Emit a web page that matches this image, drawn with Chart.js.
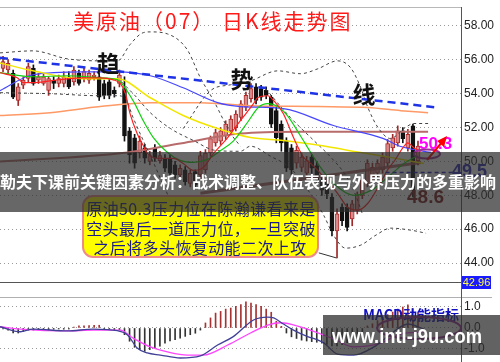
<!DOCTYPE html>
<html>
<head>
<meta charset="utf-8">
<script src="https://cdn.jsdelivr.net/npm/chart.js@4.4.1/dist/chart.umd.min.js"></script>
<style>
  html, body { margin: 0; padding: 0; background: #fff; }
  #wrap { position: relative; width: 500px; height: 362px; overflow: hidden; }
  canvas { position: absolute; left: 0; }
  #main { top: 0; }
  #macd { top: 297px; }
</style>
</head>
<body>
<div id="wrap">
  <canvas id="main" width="500" height="297"></canvas>
  <canvas id="macd" width="500" height="65"></canvas>
</div>
<script>
// daily candles (index = trading day)
var openP  = [55.5,55.4,55.2,53.6,54.5,54.9,55.5,54.8,54.6,54.2,54.8,54.6,54.6,55.0,54.7,55.2,54.9,54.8,55.0,55.0,
              54.6,54.7,54.2,54.6,54.3,51.8,51.4,50.5,50.8,50.0,50.8,50.05,50.2,50.2,49.8,49.2,49.5,48.7,49.4,49.2,
              49.5,50.5,51.1,51.2,51.5,51.8,52.0,52.6,53.2,53.7,54.4,54.3,54.2,53.8,53.0,52.2,51.2,50.8,49.9,49.65,
              49.3,50.25,49.76,48.9,48.9,47.9,45.9,47.3,47.3,46.6,47.1,48.0,48.7,49.1,49.3,49.5,49.9,50.8,51.1,51.8,
              50.8,52.1,50.05];
var highP  = [56.2,56.0,55.4,54.6,55.0,55.8,55.7,55.2,55.2,55.0,55.0,55.1,55.3,55.3,55.6,55.4,55.5,55.4,55.3,55.2,
              54.8,54.9,54.4,55.4,55.0,52.0,51.6,51.5,51.0,50.6,51.0,50.6,50.4,50.4,50.0,49.8,49.7,49.5,49.5,50.6,
              50.7,51.5,51.9,52.0,52.4,52.7,53.0,53.6,54.1,54.6,54.6,54.5,54.4,53.9,53.2,52.4,51.4,51.0,50.9,50.5,
              50.3,50.4,50.0,49.1,49.1,48.1,47.2,47.5,47.5,47.7,48.2,49.1,50.1,49.9,50.1,50.5,51.3,51.6,52.1,52.0,
              51.9,52.2,51.2];
var lowP   = [55.3,55.2,53.7,53.3,54.3,54.7,54.5,54.6,54.5,53.9,54.3,54.4,54.4,54.3,54.5,54.5,54.7,54.6,54.8,53.6,
              53.7,53.7,53.8,54.4,51.2,49.9,49.6,50.2,49.9,49.8,50.0,49.9,49.4,49.1,49.0,49.0,48.6,48.5,48.4,49.0,
              49.3,50.3,50.9,51.0,51.3,51.6,51.8,52.4,53.0,53.5,53.4,53.6,53.7,52.0,51.1,50.6,49.4,49.2,49.6,49.4,
              49.0,49.3,48.7,48.0,47.8,45.6,44.3,46.2,45.9,46.2,46.9,47.8,48.5,48.9,49.1,49.3,49.7,50.6,50.9,51.1,
              50.6,47.9,49.8];
var closeP = [55.9,55.8,53.8,54.4,54.8,55.6,54.6,55.0,55.0,54.9,54.6,54.9,55.0,54.4,55.4,54.6,55.3,55.2,55.1,53.8,
              53.9,53.9,54.0,55.1,51.5,50.4,49.9,51.2,50.2,50.35,50.2,50.35,49.6,49.3,49.2,49.6,48.8,49.3,48.6,50.35,
              50.5,51.35,51.7,51.8,52.2,52.5,52.8,53.4,53.9,54.3,53.6,53.8,53.9,52.2,51.4,51.1,49.6,49.5,50.65,50.25,
              50.05,49.6,48.9,48.3,48.1,45.9,46.9,46.5,46.1,47.5,48.0,48.9,49.9,49.65,49.9,50.25,51.05,51.4,51.8,51.35,
              51.6,48.3,50.9];
var priceTicks = [44, 46, 48, 50, 52, 54, 56, 58];
var lastPrice = '42.96';

// overlay lines as [day, price]
var maBlue   = [[-0.6,54.18],[5.9,55.12],[15.8,55.29],[22.6,55.29],[29.1,55.06],[35.6,54.35],[42.4,53.47],[46.9,53.24],[55.4,53.12],[65.3,52.12],[75.2,51.35],[78.6,50.88],[84.6,50.53]];
var maYellow = [[-0.6,55.82],[5.9,55.35],[15.8,54.88],[22.6,54.88],[29.1,53.76],[35.6,52.71],[42.4,51.94],[48.9,51.41],[55.4,51.24],[62.8,50.94],[70.7,50.53],[76.6,50.24],[83.2,49.88]];
var maGreen  = [[-0.6,55.24],[5.9,55.0],[12.7,55.06],[19.2,54.94],[22.6,54.82],[25.7,53.59],[27.7,52.41],[29.7,51.41],[32.5,50.53],[35,50.06],[37.6,49.94],[40.4,50.12],[43,50.65],[45.5,51.2],[48.3,52.3],[50.5,53.2],[52.3,53.41],[54.5,53.2],[56.2,52.7],[58.8,51.5],[62.2,49.88],[65.3,48.71],[69.3,48.0],[72.7,48.29],[76,49.06],[79.2,49.88],[82,50.35]];
var maRed    = [[-0.6,55.24],[2.8,54.94],[4,54.65],[5.9,54.65],[9.3,54.76],[12.7,54.88],[15.8,54.94],[19.2,54.94],[21.8,54.82],[23.2,54.59],[24.2,54.0],[25.1,52.82],[26.5,51.65],[27.7,50.94],[28.5,50.47],[31.1,50.18],[33.7,50.18],[35.6,49.88],[37.6,49.47],[39.6,49.65],[41.6,50.47],[44.4,51.41],[46.9,52.41],[49.5,53.41],[50.3,53.76],[52.3,53.88],[53.5,53.59],[55.4,52.82],[57.4,51.41],[59.4,50.24],[60.8,49.88],[62.2,49.47],[63.4,49.06],[66.1,48.12],[68.1,47.29],[70.1,47.12],[72.1,47.53],[74.1,48.47],[76,49.5],[77.5,50.1],[79,50.8],[80,51.1],[81.2,50.8],[82.6,50.6]];
var maOrange = [[-0.6,52.71],[9.3,52.88],[19.2,53.24],[29.1,53.47],[39,53.47],[48.9,53.29],[62.2,53.24],[72.1,53.18],[78.6,53.0],[84,52.88]];
var maBrown  = [[-0.6,50.0],[24.6,50.53],[35,51.06],[46.9,51.65],[58.8,51.76],[84,51.76]];
var trendLine   = [[-0.6,56.12],[85.9,53.18]];
var bandUpperA  = [[-0.6,56.41],[5.9,56.53],[12.7,56.06],[19.2,55.94],[22.6,55.94],[25.1,56.9],[27.3,57.55],[29.1,57.65],[32.5,57.53],[36.4,56.6],[39,54.94],[41.6,53.6],[45,51.65],[46.9,50.9]];
var bandUpperB  = [[35.6,51.94],[41,54.18],[45,54.53],[48.9,54.76],[54.3,55.35],[58.8,55.18],[62.2,55.47],[66.1,55.94],[68.7,55.53],[70.7,54.35],[72.1,53.18],[74.1,52.0],[76.6,51.35],[79.2,51.94],[81.2,52.24],[84,52.24]];
var bandLowerA  = [[-0.6,54.06],[9.3,54.0],[19.2,53.88],[22.6,53.88],[24.2,53.71],[25.7,52.59],[27.7,51.24],[29.1,50.35],[31.1,49.0],[34.1,47.0]];
var bandLowerB  = [[22.6,54.94],[26.1,53.88],[29.1,52.88],[33.1,51.94],[37.6,51.24],[42,50.65],[46.9,50.6],[48.9,50.9],[52.9,50.3],[56.8,49.6],[60.5,48.2],[63.4,46.8],[65.3,45.65],[67.7,44.88],[70.7,45.06],[73.7,45.65],[76.6,46.06],[80.6,45.94],[83.6,45.76]];
var bandMid     = [[51.9,54.29],[56.8,52.59],[61.4,51.24],[64.8,50.24],[67.7,49.18],[69.7,48.0],[71.1,46.82]];
var channelLine = [[39,48.12],[82.6,49.94]];
var supportLine = [[75.6,49.35],[88.9,49.35]];
var pointerLine = [[62.4,44.6],[65.9,44.3]];

// MACD panel
var macdTicks = [1, 0, -1];
var macdHist = [-0.05,-0.1,-0.24,-0.24,-0.16,-0.1,-0.1,-0.08,-0.06,-0.08,-0.06,-0.05,-0.06,-0.05,0.04,0.1,0.1,0.11,0.13,0.13,
                -0.05,-0.06,-0.08,-0.08,-0.32,-0.63,-0.92,-1.03,-1.11,-1.03,-0.95,-0.87,-0.72,-0.62,-0.56,-0.48,-0.4,-0.32,-0.25,-0.1,
                0.24,0.48,0.71,0.79,0.9,0.95,1.03,1.11,1.24,1.19,1.11,1.03,0.9,0.75,0.32,0.08,-0.24,-0.42,-0.5,-0.58,
                -0.62,-0.65,-0.68,-0.72,-0.78,-0.85,-0.85,-0.8,-0.7,-0.55,-0.4,-0.2,0.1,0.2,0.35,0.52,0.64,0.76,0.9,1.0,
                1.1,0.92,0.76];
var difLine = [[-0.6,0.06],[3.4,-0.18],[5.9,-0.05],[12.7,-0.14],[17.8,-0.05],[22.6,-0.13],[24.6,-0.33],[26.5,-0.95],[28.5,-1.19],[31.1,-1.29],[35,-1.43],[39,-1.33],[42.4,-0.81],[45.5,-0.41],[49.5,0.38],[52.3,0.52],[53.5,0.48],[55.4,0.19],[57.4,-0.1],[60.2,-0.41],[62.2,-0.57],[63.4,-0.71],[66.1,-1.24],[69.3,-1.29],[73.3,-0.9],[76.6,-0.29],[80,0.19],[83.2,-0.05]];
var deaLine = [[-0.6,0.06],[3.4,-0.05],[12.7,-0.14],[17.8,-0.1],[23.2,-0.1],[25.7,-0.48],[29.1,-0.9],[32.5,-1.14],[36.4,-1.29],[39.6,-1.29],[44.4,-0.81],[48.9,-0.24],[52.3,0.14],[54.9,0.25],[58.8,0.05],[65.3,-0.52],[69.3,-0.9],[74.1,-0.76],[78.6,-0.29],[83.2,-0.19]];

var days = openP.map(function (o, i) { return i; });
var isUp = days.map(function (i) { return closeP[i] >= openP[i]; });

function curve(points, color, width, dash, order) {
  return {
    type: 'line',
    data: points.map(function (p) { return { x: p[0], y: p[1] }; }),
    borderColor: color,
    borderWidth: width,
    borderDash: dash || [],
    pointRadius: 0,
    fill: false,
    cubicInterpolationMode: 'monotone',
    order: order || 1
  };
}

function ellipse(ctx, cx, cy, rx, ry, color) {
  ctx.strokeStyle = color;
  ctx.lineWidth = 2;
  ctx.beginPath();
  ctx.ellipse(cx, cy, rx, ry, 0, 0, Math.PI * 2);
  ctx.stroke();
}

var mainOverlay = {
  id: 'mainOverlay',
  afterDraw: function (chart) {
    var ctx = chart.ctx;
    var area = chart.chartArea;
    ctx.save();

    // frame
    ctx.lineWidth = 1;
    ctx.strokeStyle = '#b8b8b8';
    ctx.beginPath(); ctx.moveTo(0, area.top + 0.5); ctx.lineTo(area.right, area.top + 0.5); ctx.stroke();
    ctx.strokeStyle = '#555';
    ctx.beginPath(); ctx.moveTo(0, area.bottom + 0.5); ctx.lineTo(area.right, area.bottom + 0.5); ctx.stroke();
    ctx.beginPath(); ctx.moveTo(area.right + 0.5, area.top); ctx.lineTo(area.right + 0.5, chart.height); ctx.stroke();

    // last price box
    ctx.fillStyle = '#1a1aff';
    ctx.fillRect(462, 276, 29, 13);
    ctx.fillStyle = '#ffff40';
    ctx.font = '11px "Liberation Sans"';
    ctx.textAlign = 'center';
    ctx.textBaseline = 'middle';
    ctx.fillText(lastPrice, 476.5, 283);

    // title
    ctx.font = '21px "Noto Sans CJK SC"';
    ctx.fillStyle = '#ff1a1a';
    ctx.textAlign = 'left';
    ctx.letterSpacing = '2px';
    ctx.fillText('美原油（07） 日K线走势图', 73, 21);
    ctx.letterSpacing = '0px';

    // 趋 势 线
    ctx.font = 'bold 23px "Noto Sans CJK SC"';
    ctx.fillStyle = '#111';
    ctx.textAlign = 'center';
    ctx.fillText('趋', 108, 63);
    ctx.fillText('势', 242, 79);
    ctx.fillText('线', 364, 94);

    // price notes
    ctx.textAlign = 'left';
    ctx.font = 'bold 17px "Liberation Sans"';
    ctx.fillStyle = '#ff00ff';
    ctx.fillText('50.3', 419, 144);
    ctx.font = 'bold 18px "Liberation Sans"';
    ctx.fillStyle = '#2a2ab8';
    ctx.fillText('49.5', 452, 172);
    ctx.font = 'bold 19px "Liberation Sans"';
    ctx.fillStyle = '#7a1a1a';
    ctx.fillText('48.6', 407, 198);

    ellipse(ctx, 427, 154, 13, 4.5, '#9b2d9b');

    // arrow
    ctx.strokeStyle = '#ff0000';
    ctx.fillStyle = '#ff0000';
    ctx.lineWidth = 2;
    ctx.beginPath(); ctx.moveTo(427, 160); ctx.lineTo(443, 141); ctx.stroke();
    ctx.beginPath(); ctx.moveTo(447, 136); ctx.lineTo(437, 141); ctx.lineTo(444, 147); ctx.closePath(); ctx.fill();

    // note box
    ctx.fillStyle = '#ffff00';
    ctx.strokeStyle = '#f08a8a';
    ctx.lineWidth = 2;
    ctx.beginPath();
    ctx.roundRect(83, 196, 235, 61, 10);
    ctx.fill();
    ctx.stroke();
    ctx.fillStyle = '#1a1a8a';
    ctx.font = '16px "Noto Sans CJK SC"';
    ctx.textAlign = 'center';
    ctx.letterSpacing = '0.4px';
    ctx.fillText('原油50.3压力位在陈瀚谦看来是', 201, 209);
    ctx.fillText('空头最后一道压力位，一旦突破', 201, 229);
    ctx.fillText('之后将多头恢复动能二次上攻', 200, 248);
    ctx.letterSpacing = '0px';

    // banner
    ctx.fillStyle = 'rgba(45,45,45,0.72)';
    ctx.fillRect(0, 152, 500, 60);
    ctx.fillStyle = '#ffffff';
    ctx.font = 'bold 16px "Noto Sans CJK SC"';
    ctx.fillText('勒夫下课前关键因素分析：战术调整、队伍表现与外界压力的多重影响', 248, 182);

    ctx.restore();
  }
};

var macdOverlay = {
  id: 'macdOverlay',
  afterDraw: function (chart) {
    var ctx = chart.ctx;
    var area = chart.chartArea;
    ctx.save();
    ctx.strokeStyle = '#b0b0b0';
    ctx.lineWidth = 1;
    ctx.beginPath(); ctx.moveTo(0, 0.5); ctx.lineTo(492, 0.5); ctx.stroke();
    ctx.strokeStyle = '#555';
    ctx.beginPath(); ctx.moveTo(area.right + 0.5, 0); ctx.lineTo(area.right + 0.5, chart.height); ctx.stroke();

    ctx.font = 'bold 14px "Noto Sans CJK SC"';
    ctx.fillStyle = '#1010c0';
    ctx.textAlign = 'left';
    ctx.textBaseline = 'middle';
    ctx.fillText('MACD动能指标', 363, 18);

    ellipse(ctx, 419, 31, 42, 11, '#9b2d9b');

    ctx.fillStyle = 'rgba(45,45,45,0.75)';
    ctx.fillRect(323, 18, 177, 40);
    ctx.fillStyle = '#ffffff';
    ctx.font = 'bold 21px "Liberation Sans"';
    ctx.textAlign = 'center';
    ctx.fillText('www.intl-j9u.com', 407, 40, 150);
    ctx.restore();
  }
};

function fixedAxis(scale) {
  scale.width = 39;
  scale.paddingTop = 0;
  scale.paddingBottom = 0;
}

new Chart(document.getElementById('main'), {
  type: 'bar',
  data: {
    datasets: [
      {
        type: 'bar',
        data: days.map(function (i) { return { x: i, y: [lowP[i], highP[i]] }; }),
        backgroundColor: days.map(function (i) { return isUp[i] ? '#a02828' : '#111'; }),
        barThickness: 1,
        grouped: false,
        order: 21
      },
      {
        type: 'bar',
        data: days.map(function (i) { return { x: i, y: [openP[i], closeP[i]] }; }),
        backgroundColor: days.map(function (i) { return isUp[i] ? '#d88a8a' : '#111'; }),
        borderColor: days.map(function (i) { return isUp[i] ? '#b02a2a' : '#111'; }),
        borderWidth: 1,
        borderSkipped: false,
        barThickness: 4,
        grouped: false,
        order: 20
      },
      curve(maOrange, '#ff9966', 1.5, null, 8),
      curve(maBrown, '#b86b6b', 2, null, 8),
      curve(channelLine, 'rgba(160,80,80,0.85)', 3, null, 8),
      curve(bandUpperA, '#444', 1, [3, 3], 6),
      curve(bandUpperB, '#444', 1, [3, 3], 6),
      curve(bandLowerA, '#444', 1, [3, 3], 6),
      curve(bandLowerB, '#444', 1, [3, 3], 6),
      curve(bandMid, '#444', 1, [3, 3], 6),
      curve(maYellow, '#f2e600', 1.5, null, 4),
      curve(maBlue, '#4646ff', 1.2, null, 4),
      curve(maGreen, '#10d010', 1.2, null, 3),
      curve(maRed, '#ff2020', 1.2, null, 2),
      curve(trendLine, '#1e32e6', 2.5, [8, 5], 1),
      curve(supportLine, '#2020c0', 1.5, [4, 3], 1),
      curve(pointerLine, '#333', 1, null, 1)
    ]
  },
  options: {
    responsive: false,
    animation: false,
    layout: { padding: { left: 0, right: 0, top: 7, bottom: 15 } },
    plugins: { legend: { display: false }, tooltip: { enabled: false } },
    scales: {
      x: { type: 'linear', min: -0.6, max: 90.5, offset: false, display: false },
      y: {
        position: 'right',
        min: 42.88,
        max: 59.12,
        afterBuildTicks: function (s) { s.ticks = priceTicks.map(function (v) { return { value: v }; }); },
        afterFit: fixedAxis,
        grid: { color: '#9a9a9a', drawTicks: false },
        border: { display: true, color: '#555', dash: [1, 3] },
        ticks: {
          padding: 3,
          color: '#222',
          font: { family: 'Liberation Sans', size: 12 },
          callback: function (v) { return Number(v).toFixed(2); }
        }
      }
    }
  },
  plugins: [mainOverlay]
});

new Chart(document.getElementById('macd'), {
  type: 'bar',
  data: {
    datasets: [
      {
        type: 'bar',
        data: days.map(function (i) { return { x: i, y: macdHist[i] }; }),
        backgroundColor: days.map(function (i) { return macdHist[i] >= 0 ? '#a83232' : '#333'; }),
        barThickness: 1,
        grouped: false,
        order: 10
      },
      curve(deaLine, '#ff44ff', 1.3, null, 2),
      curve(difLine, '#404098', 1.3, null, 1)
    ]
  },
  options: {
    responsive: false,
    animation: false,
    layout: { padding: 0 },
    plugins: { legend: { display: false }, tooltip: { enabled: false } },
    scales: {
      x: { type: 'linear', min: -0.6, max: 90.5, offset: false, display: false },
      y: {
        position: 'right',
        min: -1.62,
        max: 1.476,
        afterBuildTicks: function (s) { s.ticks = macdTicks.map(function (v) { return { value: v }; }); },
        afterFit: fixedAxis,
        grid: { color: '#9a9a9a', drawTicks: false },
        border: { display: false, dash: [1, 3] },
        ticks: {
          padding: 3,
          color: '#222',
          font: { family: 'Liberation Sans', size: 12 },
          callback: function (v) { return Number(v).toFixed(1); }
        }
      }
    }
  },
  plugins: [macdOverlay]
});
</script>
</body>
</html>
